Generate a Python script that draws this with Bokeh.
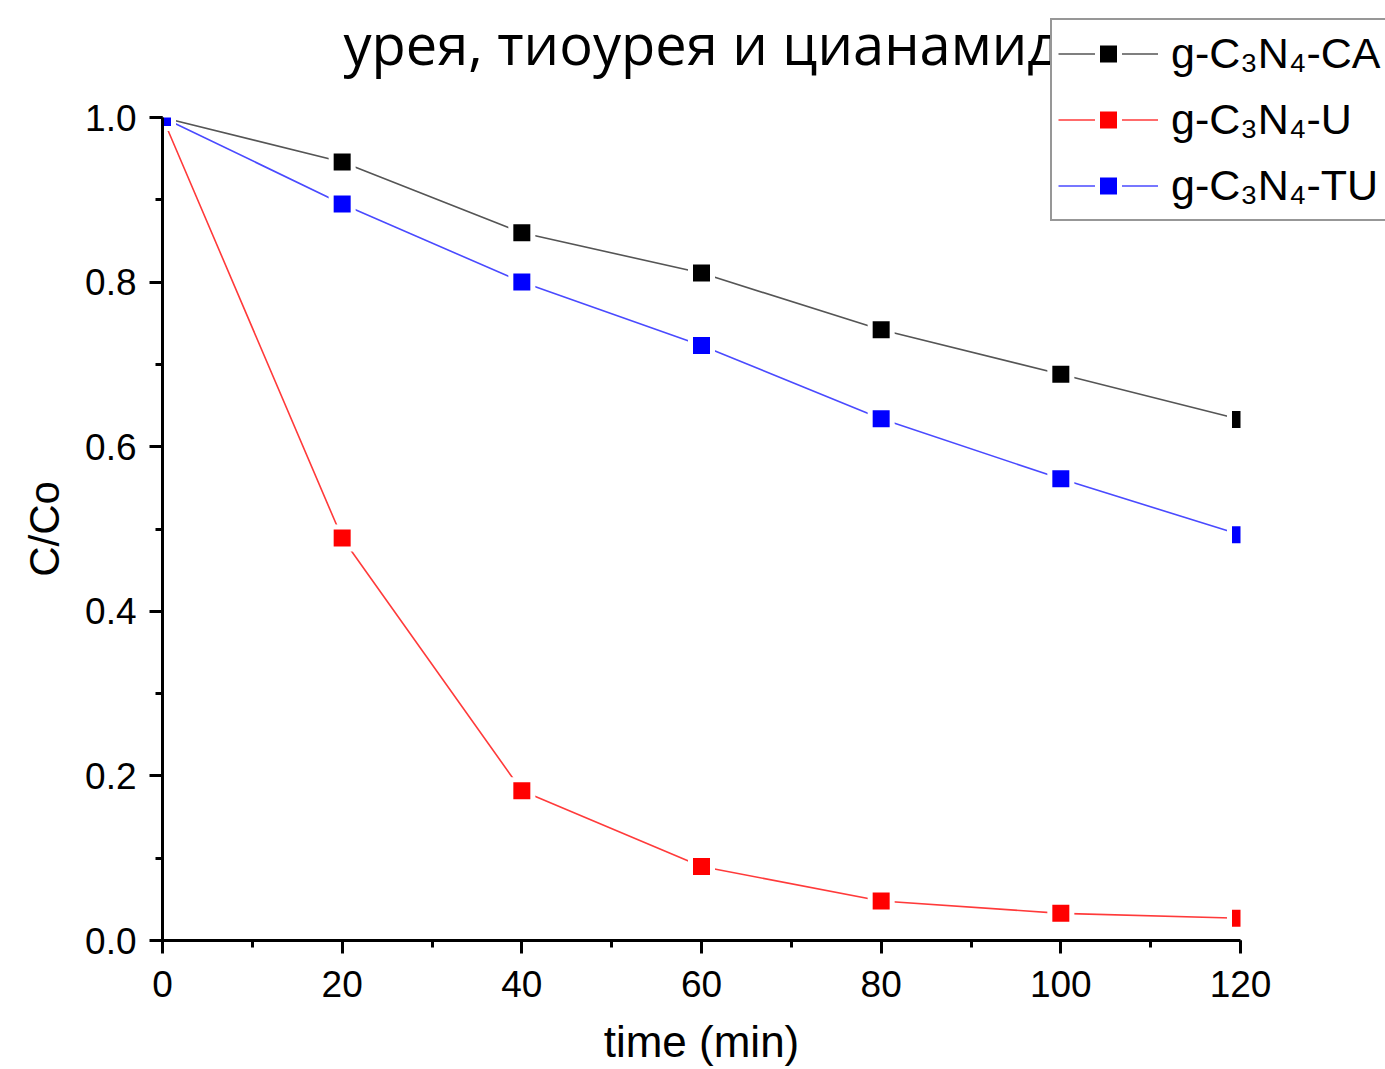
from bokeh.plotting import figure
from bokeh.models import (Range1d, SingleIntervalTicker, PrintfTickFormatter, Legend,
                          LegendItem, Label)
from bokeh.embed import file_html
from bokeh.resources import INLINE

# ---- data ----
time_min = [0, 20, 40, 60, 80, 100, 120]
ca = [1.0, 0.946, 0.860, 0.811, 0.742, 0.688, 0.633]
u = [1.0, 0.489, 0.182, 0.090, 0.048, 0.033, 0.027]
tu = [1.0, 0.895, 0.800, 0.723, 0.634, 0.561, 0.493]
series_names = ["g-C\u2083N\u2084-CA", "g-C\u2083N\u2084-U", "g-C\u2083N\u2084-TU"]
title_text = "урея, тиоурея и цианамид"
x_title = "time (min)"
y_title = "C/Co"
x_lim = (0, 120)
y_lim = (0, 1.0)

# ---- layout (pixels) ----
W, H = 1385, 1069
FL, FR, FT, FB = 162, 1240, 117, 940          # plot area edges in canvas pixels
sx = (FR - FL) / (x_lim[1] - x_lim[0])
sy = (FB - FT) / (y_lim[1] - y_lim[0])
xr = Range1d(x_lim[0] - FL / sx, x_lim[1] + (W - FR) / sx)
yr = Range1d(y_lim[0] - (H - FB) / sy, y_lim[1] + FT / sy)

p = figure(width=W, height=H, output_backend="svg", toolbar_location=None,
           x_range=xr, y_range=yr,
           min_border_left=0, min_border_right=0, min_border_top=0,
           min_border_bottom=0)
p.outline_line_color = None
p.xgrid.visible = False
p.ygrid.visible = False
p.background_fill_color = "white"
p.border_fill_color = "white"

FONT = "Liberation Sans"
for ax in (p.xaxis[0], p.yaxis[0]):
    ax.axis_line_width = 3
    ax.axis_line_color = "black"
    ax.major_tick_line_width = 3
    ax.minor_tick_line_width = 3
    ax.major_tick_out = 13
    ax.major_tick_in = 0
    ax.minor_tick_out = 7
    ax.minor_tick_in = 0
    ax.major_label_text_font = FONT
    ax.major_label_text_font_size = "37px"
    ax.major_label_text_color = "black"
    ax.axis_label_text_font = FONT
    ax.axis_label_text_font_style = "normal"
    ax.axis_label_text_color = "black"

xa, ya = p.xaxis[0], p.yaxis[0]
xa.fixed_location = y_lim[0]
ya.fixed_location = x_lim[0]
xa.bounds = x_lim
ya.bounds = y_lim
xa.ticker = SingleIntervalTicker(interval=20, num_minor_ticks=2)
ya.ticker = SingleIntervalTicker(interval=0.2, num_minor_ticks=2)
ya.formatter = PrintfTickFormatter(format="%.1f")
xa.major_label_standoff = 17
ya.major_label_standoff = 13
ya.axis_label = y_title
ya.axis_label_text_font_size = "42px"
ya.axis_label_standoff = 14
xa.axis_label = x_title
xa.axis_label_text_font_size = "44px"
xa.axis_label_standoff = 17

line_colors = ["#555555", "#ff3a3a", "#4a4aff"]
fill_colors = ["black", "red", "blue"]
ys = [ca, u, tu]

lines = []
for y, lc in zip(ys, line_colors):
    lines.append(p.line(time_min, y, line_color=lc, line_width=1.6))
marks = []
for y, fc in zip(ys, fill_colors):
    marks.append(p.scatter(time_min, y, marker="square", size=22, fill_color=fc,
                           line_color="white", line_width=5))

# white masks: emulate clipping of the marks at the plot-area edges
BIG = 1e4
p.quad(left=[-BIG, x_lim[1], -BIG], right=[x_lim[0], BIG, BIG],
       bottom=[-BIG, -BIG, y_lim[1]], top=[BIG, BIG, BIG],
       fill_color="white", line_color=None)

items = [LegendItem(label=n, renderers=[l, m]) for n, l, m in zip(series_names, lines, marks)]
legend = Legend(items=items, location=(1050, H - 221), orientation="vertical",
                glyph_width=100, glyph_height=55, label_height=55,
                label_standoff=13, spacing=11, padding=6, margin=0,
                label_text_font=FONT, label_text_font_size="43px",
                label_text_color="black",
                border_line_color="#303030", border_line_width=2,
                background_fill_color="white", background_fill_alpha=1.0)

p.add_layout(Label(x=(x_lim[0] + x_lim[1]) / 2, y=y_lim[1] + (FT - 42) / sy,
                   text=title_text, text_align="center",
                   text_baseline="alphabetic", text_font="Open Sans",
                   text_font_size="56px", text_color="black"))
p.add_layout(legend, "center")

open("out.html", "w").write(file_html(p, INLINE))
